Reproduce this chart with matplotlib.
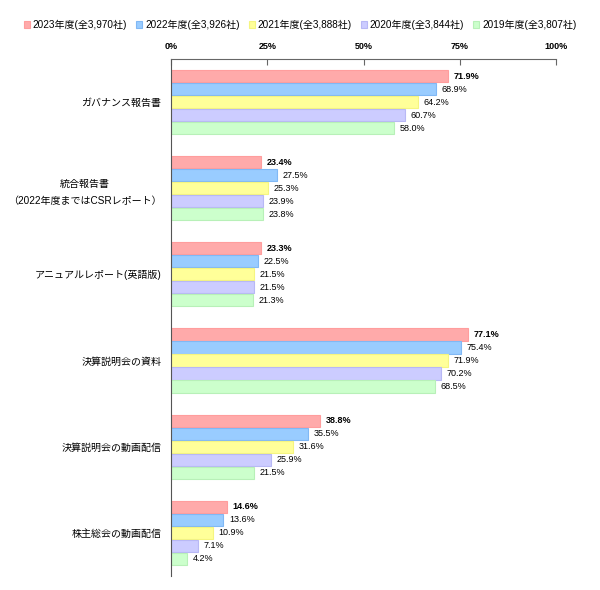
import matplotlib
matplotlib.use("Agg")
import matplotlib.pyplot as plt
import numpy as np

plt.rcParams['font.family'] = ['Liberation Sans', 'Noto Sans CJK JP']

# Data
categories = ["ガバナンス報告書", "統合報告書\n（2022年度まではCSRレポート）", "アニュアルレポート(英語版)",
              "決算説明会の資料", "決算説明会の動画配信", "株主総会の動画配信"]
series_names = ["2023年度(全3,970社)", "2022年度(全3,926社)", "2021年度(全3,888社)",
                "2020年度(全3,844社)", "2019年度(全3,807社)"]
values_2023 = [71.9, 23.4, 23.3, 77.1, 38.8, 14.6]
values_2022 = [68.9, 27.5, 22.5, 75.4, 35.5, 13.6]
values_2021 = [64.2, 25.3, 21.5, 71.9, 31.6, 10.9]
values_2020 = [60.7, 23.9, 21.5, 70.2, 25.9, 7.1]
values_2019 = [58.0, 23.8, 21.3, 68.5, 21.5, 4.2]
series_values = [values_2023, values_2022, values_2021, values_2020, values_2019]

colors = ["#FFAAAA", "#99CCFF", "#FFFF99", "#CCCCFF", "#CCFFCC"]
edges = ["#FF9D9D", "#80B8F5", "#F5F580", "#B8B8F5", "#B8F0B8"]

fig = plt.figure(figsize=(6, 5.9), dpi=100)
ax = fig.add_axes([0.285, 0.024, 0.642, 0.876])

step = 0.151
y = np.arange(len(categories))
for i, (name, vals) in enumerate(zip(series_names, series_values)):
    pos = y + (i - 2) * step
    ax.barh(pos, vals, height=0.14, color=colors[i], edgecolor=edges[i],
            linewidth=0.8, label=name)
    for p, v in zip(pos, vals):
        ax.annotate(f"{v:.1f}%", (v, p), xytext=(4, 0), textcoords="offset points",
                    va="center", ha="left", fontsize=6.5,
                    fontweight="bold" if i == 0 else "normal")

ax.set_xlim(0, 100)
ax.set_ylim(5.5, -0.5)
ax.set_yticks(y)
ax.set_yticklabels(categories, fontsize=7.2, linespacing=1.9)
for t in ax.get_yticklabels():
    t.set_multialignment("center")
ax.tick_params(axis="y", length=0, pad=7)
ax.xaxis.tick_top()
ax.set_xticks([0, 25, 50, 75, 100])
ax.set_xticklabels(["0%", "25%", "50%", "75%", "100%"], fontsize=6.5, fontweight="bold")
ax.tick_params(axis="x", direction="in", length=4, color="#666666", pad=6)
for s in ["right", "bottom"]:
    ax.spines[s].set_visible(False)
ax.spines["top"].set_color("#666666")
ax.spines["left"].set_color("#555555")

fig.legend(loc="upper center", bbox_to_anchor=(0.5, 0.982), ncol=5, fontsize=7.2,
           frameon=False, handlelength=0.6, handleheight=0.6, handletextpad=0.3,
           columnspacing=0.9)

fig.savefig("out.png", dpi=100)
